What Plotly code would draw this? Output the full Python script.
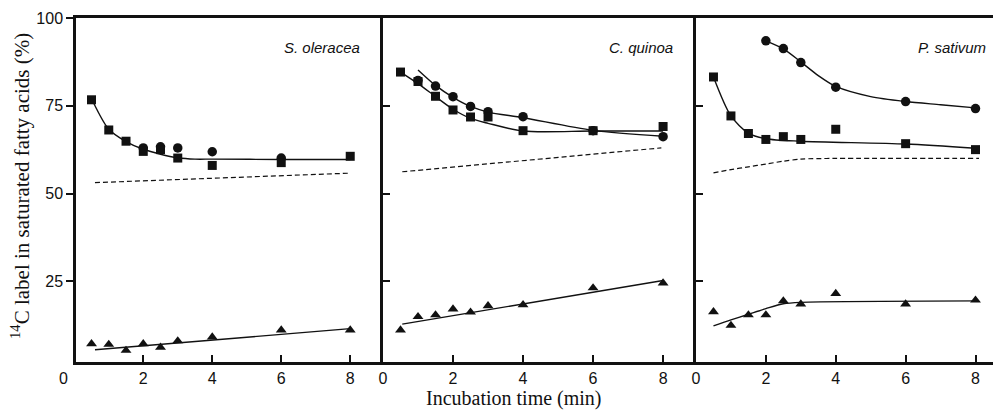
import plotly.graph_objects as go

# ---------------- data ----------------
# S. oleracea
so_sq_x = [0.5, 1, 1.5, 2, 2.5, 3, 4, 6, 8]
so_sq_y = [76.7, 68.1, 64.9, 62.0, 62.5, 60.1, 58.0, 58.8, 60.6]
so_ci_x = [2, 2.5, 3, 4, 6]
so_ci_y = [63.0, 63.3, 63.0, 61.9, 60.1]
so_tr_x = [0.5, 1, 1.5, 2, 2.5, 3, 4, 6, 8]
so_tr_y = [7.2, 7.0, 5.3, 7.2, 6.2, 8.0, 9.1, 11.1, 11.1]
so_sqfit_x = [0.55, 1, 1.5, 2, 2.5, 3, 3.5, 4, 6, 8]
so_sqfit_y = [76.0, 68.3, 64.8, 62.6, 61.2, 60.2, 59.8, 59.8, 59.7, 59.7]
so_dash_x = [0.6, 8]
so_dash_y = [53.1, 55.8]
so_trfit_x = [0.6, 8]
so_trfit_y = [5.5, 11.5]

# C. quinoa
cq_sq_x = [0.5, 1, 1.5, 2, 2.5, 3, 4, 6, 8]
cq_sq_y = [84.6, 81.9, 77.7, 73.8, 71.8, 71.8, 67.9, 67.9, 69.1]
cq_ci_x = [1, 1.5, 2, 2.5, 3, 4, 6, 8]
cq_ci_y = [82.2, 80.6, 77.6, 74.8, 73.3, 71.9, 67.9, 66.2]
cq_tr_x = [0.5, 1, 1.5, 2, 2.5, 3, 4, 6, 8]
cq_tr_y = [11.1, 14.9, 15.4, 17.1, 16.2, 18.0, 18.3, 23.1, 24.5]
cq_sqfit_x = [0.5, 1, 1.5, 2, 2.5, 3, 4, 6, 8]
cq_sqfit_y = [84.6, 81.3, 77.6, 74.0, 71.4, 70.0, 67.8, 67.8, 67.8]
cq_cifit_x = [1, 1.5, 2, 2.5, 3, 4, 6, 8]
cq_cifit_y = [85.2, 80.8, 77.4, 74.8, 73.2, 71.6, 68.0, 66.3]
cq_dash_x = [0.55, 7.95]
cq_dash_y = [56.2, 63.0]
cq_trfit_x = [0.55, 8]
cq_trfit_y = [12.8, 25.2]

# P. sativum
ps_sq_x = [0.5, 1, 1.5, 2, 2.5, 3, 4, 6, 8]
ps_sq_y = [83.2, 72.1, 67.1, 65.4, 66.2, 65.4, 68.3, 64.2, 62.5]
ps_ci_x = [2, 2.5, 3, 4, 6, 8]
ps_ci_y = [93.5, 91.3, 87.3, 80.3, 76.2, 74.2]
ps_tr_x = [0.5, 1, 1.5, 2, 2.5, 3, 4, 6, 8]
ps_tr_y = [16.3, 12.4, 15.4, 15.4, 19.4, 18.5, 21.5, 18.5, 19.6]
ps_sqfit_x = [0.5, 1, 1.5, 2, 3, 6, 8]
ps_sqfit_y = [83.2, 72.1, 67.2, 65.6, 64.9, 64.1, 62.9]
ps_cifit_x = [2, 2.5, 3, 3.5, 4, 5, 6, 7, 8]
ps_cifit_y = [93.5, 91.2, 87.5, 83.6, 80.5, 77.6, 76.2, 75.3, 74.4]
ps_dash_x = [0.5, 1, 1.5, 2, 2.5, 3, 4, 8.1]
ps_dash_y = [55.9, 56.8, 57.6, 58.4, 59.2, 59.8, 60.0, 60.0]
ps_trfit_x = [0.5, 1, 1.5, 2, 2.5, 3, 8.1]
ps_trfit_y = [12.3, 14.0, 15.6, 17.2, 18.6, 19.0, 19.4]

species = ["S. oleracea", "C. quinoa", "P. sativum"]
x_ticks = [0, 2, 4, 6, 8]
y_ticks = [25, 50, 75, 100]
y_title = "<sup>14</sup>C label in saturated fatty acids (%)"
x_title = "Incubation time (min)"

# ---------------- figure ----------------
SANS = "Liberation Sans, Arial, sans-serif"
SERIF = "Liberation Serif, Times New Roman, serif"
BLACK = "#111111"

fig = go.Figure()

panels = [
    ("x", "y", so_sq_x, so_sq_y, so_ci_x, so_ci_y, so_tr_x, so_tr_y,
     [(so_sqfit_x, so_sqfit_y, "spline")],
     (so_dash_x, so_dash_y, "linear"), (so_trfit_x, so_trfit_y, "linear")),
    ("x2", "y2", cq_sq_x, cq_sq_y, cq_ci_x, cq_ci_y, cq_tr_x, cq_tr_y,
     [(cq_sqfit_x, cq_sqfit_y, "spline"), (cq_cifit_x, cq_cifit_y, "spline")],
     (cq_dash_x, cq_dash_y, "linear"), (cq_trfit_x, cq_trfit_y, "linear")),
    ("x3", "y3", ps_sq_x, ps_sq_y, ps_ci_x, ps_ci_y, ps_tr_x, ps_tr_y,
     [(ps_sqfit_x, ps_sqfit_y, "spline"), (ps_cifit_x, ps_cifit_y, "spline")],
     (ps_dash_x, ps_dash_y, "spline"), (ps_trfit_x, ps_trfit_y, "spline")),
]

for (xa, ya, sqx, sqy, cix, ciy, trx, try_, fits, dash, trfit) in panels:
    for fx, fy, shp in fits:
        fig.add_trace(go.Scatter(x=fx, y=fy, mode="lines", xaxis=xa, yaxis=ya,
                                 line=dict(color=BLACK, width=1.4, shape=shp, smoothing=0.8),
                                 showlegend=False, hoverinfo="skip"))
    fig.add_trace(go.Scatter(x=dash[0], y=dash[1], mode="lines", xaxis=xa, yaxis=ya,
                             line=dict(color=BLACK, width=1.2, dash="5px,3px", shape=dash[2], smoothing=0.8),
                             showlegend=False, hoverinfo="skip"))
    fig.add_trace(go.Scatter(x=trfit[0], y=trfit[1], mode="lines", xaxis=xa, yaxis=ya,
                             line=dict(color=BLACK, width=1.4, shape=trfit[2], smoothing=0.8),
                             showlegend=False, hoverinfo="skip"))
    fig.add_trace(go.Scatter(x=cix, y=ciy, mode="markers", xaxis=xa, yaxis=ya,
                             marker=dict(symbol="circle", size=9.5, color=BLACK, line=dict(width=0)),
                             showlegend=False))
    fig.add_trace(go.Scatter(x=sqx, y=sqy, mode="markers", xaxis=xa, yaxis=ya,
                             marker=dict(symbol="square", size=9, color=BLACK, line=dict(width=0)),
                             showlegend=False))
    fig.add_trace(go.Scatter(x=trx, y=try_, mode="markers", xaxis=xa, yaxis=ya,
                             marker=dict(symbol="triangle-up", size=9.5, color=BLACK, line=dict(width=0)),
                             showlegend=False))

# The page body has an 8px margin; the figure is sized/positioned to compensate.
OFF = 8
W, H = 1001 - OFF, 410 - OFF
L, R, T = 76 - OFF, 0, 18 - OFF
B = H - T - 344
PW = W - L - R
PH = H - T - B


def px_to_dom(p):
    return (p - OFF - L) / PW


def py_to_dom(p):
    return (H - B - (p - OFF)) / PH


d1 = [0, px_to_dom(383)]
d2 = [px_to_dom(383), px_to_dom(696)]
d3 = [px_to_dom(696), 1]

common_x = dict(showline=True, mirror=True, linecolor=BLACK, linewidth=2.5,
                ticks="inside", ticklen=7, tickwidth=1.6, tickcolor=BLACK,
                showgrid=False, zeroline=False,
                tickfont=dict(family=SANS, size=16, color=BLACK))
common_y = dict(showline=True, linecolor=BLACK, linewidth=2.5,
                tickwidth=1.6, tickcolor=BLACK, ticklen=7,
                showgrid=False, zeroline=False, range=[2, 100],
                tickfont=dict(family=SANS, size=16, color=BLACK))

fig.update_layout(
    width=W, height=H,
    margin=dict(l=L, r=R, t=T, b=B),
    paper_bgcolor="white", plot_bgcolor="white",
    xaxis=dict(domain=d1, range=[0.05, 8.95], anchor="y",
               tickvals=[v for v in x_ticks if v > 0], **common_x),
    xaxis2=dict(domain=d2, range=[0, 8.94], anchor="y2", tickvals=x_ticks, **common_x),
    xaxis3=dict(domain=d3, range=[0, 8.73], anchor="y3", tickvals=x_ticks, **common_x),
    yaxis=dict(domain=[0, 1], anchor="x", ticks="outside", tickvals=y_ticks, **common_y),
    yaxis2=dict(domain=[0, 1], anchor="x2", ticks="inside", tickvals=y_ticks[:3],
                showticklabels=False, **common_y),
    yaxis3=dict(domain=[0, 1], anchor="x3", ticks="inside", tickvals=y_ticks[:3],
                showticklabels=False, **common_y),
)

ann = []
# species labels
for xr, yr, name in [("x", "y", species[0]), ("x2", "y2", species[1]), ("x3", "y3", species[2])]:
    ann.append(dict(x=8.35, y=91.7, xref=xr, yref=yr, text=name, showarrow=False,
                    xanchor="right", yanchor="middle",
                    font=dict(family=SANS, size=15, color=BLACK, style="italic")))
# "0" at the lower-left corner of the first panel
ann.append(dict(x=px_to_dom(63), y=py_to_dom(378), xref="paper", yref="paper", text="0",
                showarrow=False, xanchor="center", yanchor="middle",
                font=dict(family=SANS, size=16, color=BLACK)))
# axis titles
ann.append(dict(x=px_to_dom(514), y=py_to_dom(398), xref="paper", yref="paper", text=x_title,
                showarrow=False, xanchor="center", yanchor="middle",
                font=dict(family=SERIF, size=20, color=BLACK)))
ann.append(dict(x=px_to_dom(20), y=py_to_dom(186), xref="paper", yref="paper", text=y_title,
                showarrow=False, xanchor="center", yanchor="middle", textangle=-90,
                font=dict(family=SERIF, size=21, color=BLACK)))
fig.update_layout(annotations=ann)

fig.write_html("out.html")
